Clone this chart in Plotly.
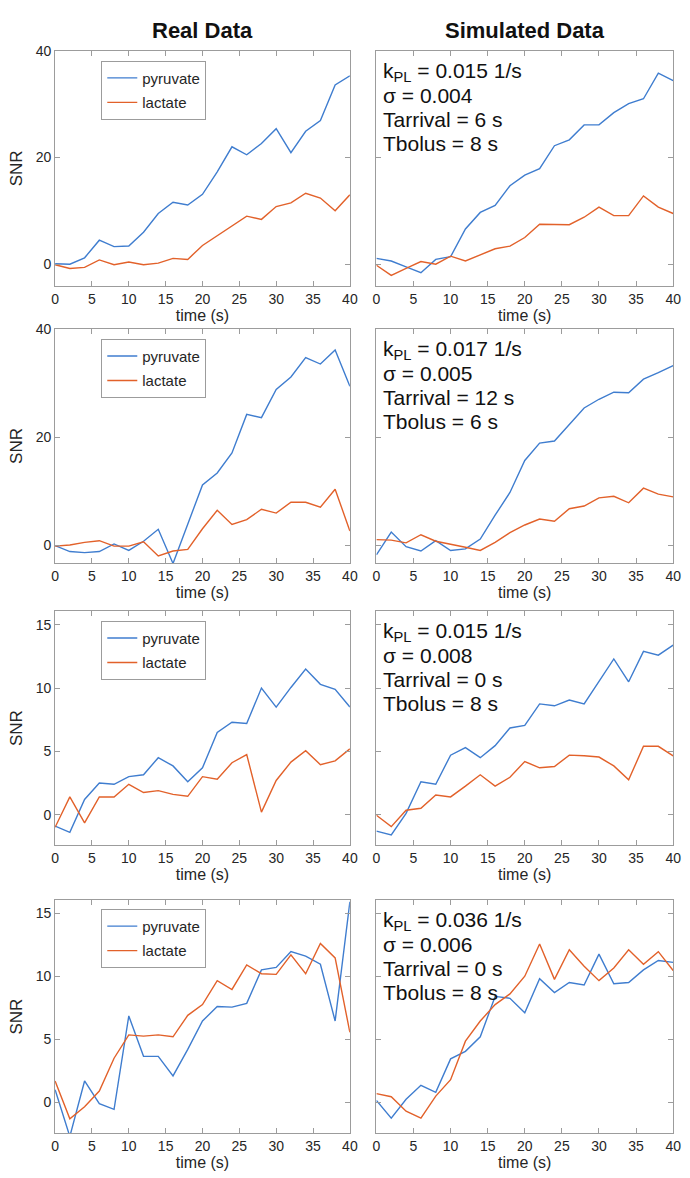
import plotly.graph_objects as go

# ---------------- data ----------------
time_s = [0, 2, 4, 6, 8, 10, 12, 14, 16, 18, 20, 22, 24, 26, 28, 30, 32, 34, 36, 38, 40]

real1_pyr = [0.1, 0.0, 1.2, 4.5, 3.3, 3.4, 6.0, 9.5, 11.6, 11.1, 13.1, 17.3, 22.0, 20.5, 22.6, 25.4, 20.9, 24.9, 26.9, 33.6, 35.3]
real1_lac = [-0.1, -0.8, -0.6, 0.8, -0.1, 0.4, -0.1, 0.2, 1.1, 0.9, 3.5, 5.3, 7.1, 9.0, 8.4, 10.8, 11.5, 13.3, 12.4, 10.0, 13.0]
sim1_pyr = [1.1, 0.6, -0.5, -1.6, 0.9, 1.4, 6.6, 9.7, 11.0, 14.7, 16.7, 17.9, 22.2, 23.3, 26.1, 26.1, 28.4, 30.1, 31.0, 35.8, 34.4]
sim1_lac = [-0.2, -2.1, -0.8, 0.5, 0.0, 1.5, 0.6, 1.8, 2.9, 3.4, 5.0, 7.5, 7.4, 7.4, 8.8, 10.7, 9.1, 9.1, 12.8, 10.7, 9.5]

real2_pyr = [0.0, -1.1, -1.3, -1.1, 0.3, -0.9, 0.8, 3.0, -3.3, 4.0, 11.2, 13.4, 17.1, 24.2, 23.6, 28.8, 31.1, 34.7, 33.5, 36.1, 29.4]
real2_lac = [-0.1, 0.1, 0.6, 0.9, -0.1, -0.1, 0.7, -1.9, -1.0, -0.7, 3.1, 6.5, 3.9, 4.8, 6.7, 6.0, 8.0, 8.0, 7.1, 10.4, 2.7]
sim2_pyr = [-1.7, 2.5, -0.2, -1.0, 0.9, -0.9, -0.6, 1.2, 5.6, 9.8, 15.7, 18.9, 19.3, 22.3, 25.4, 27.0, 28.3, 28.2, 30.7, 31.9, 33.2]
sim2_lac = [1.1, 1.0, 0.5, 2.0, 0.8, 0.3, -0.3, -0.9, 0.6, 2.4, 3.8, 4.9, 4.5, 6.8, 7.3, 8.8, 9.1, 7.9, 10.6, 9.5, 9.0]

real3_pyr = [-0.9, -1.4, 1.2, 2.5, 2.4, 3.0, 3.15, 4.5, 3.85, 2.6, 3.7, 6.5, 7.3, 7.2, 10.0, 8.5, 10.05, 11.5, 10.3, 9.9, 8.5]
real3_lac = [-1.0, 1.4, -0.65, 1.4, 1.4, 2.4, 1.75, 1.9, 1.6, 1.45, 3.0, 2.8, 4.1, 4.75, 0.2, 2.7, 4.15, 5.05, 3.95, 4.25, 5.2]
sim3_pyr = [-1.3, -1.6, 0.1, 2.6, 2.4, 4.7, 5.3, 4.5, 5.45, 6.85, 7.05, 8.75, 8.6, 9.05, 8.75, 10.55, 12.3, 10.5, 12.9, 12.6, 13.4]
sim3_lac = [-0.05, -0.95, 0.35, 0.5, 1.55, 1.4, 2.25, 3.15, 2.25, 2.95, 4.2, 3.7, 3.8, 4.7, 4.65, 4.55, 3.85, 2.75, 5.4, 5.4, 4.65]

real4_pyr = [1.0, -2.7, 1.7, -0.1, -0.55, 6.85, 3.65, 3.65, 2.1, 4.2, 6.45, 7.6, 7.55, 7.85, 10.5, 10.7, 11.95, 11.6, 10.95, 6.45, 15.9]
real4_lac = [1.7, -1.3, -0.35, 0.9, 3.5, 5.35, 5.25, 5.35, 5.2, 6.9, 7.75, 9.65, 8.95, 10.9, 10.2, 10.15, 11.7, 10.2, 12.6, 11.45, 5.55]
sim4_pyr = [0.15, -1.25, 0.25, 1.35, 0.8, 3.45, 4.05, 5.2, 8.4, 8.25, 7.1, 9.8, 8.7, 9.5, 9.3, 11.75, 9.4, 9.5, 10.5, 11.25, 11.1]
sim4_lac = [0.7, 0.45, -0.7, -1.25, 0.5, 1.8, 4.85, 6.45, 7.75, 8.6, 10.0, 12.55, 9.75, 12.1, 10.8, 9.65, 10.65, 12.1, 10.95, 11.95, 10.45]

real_pyr = [real1_pyr, real2_pyr, real3_pyr, real4_pyr]
real_lac = [real1_lac, real2_lac, real3_lac, real4_lac]
sim_pyr = [sim1_pyr, sim2_pyr, sim3_pyr, sim4_pyr]
sim_lac = [sim1_lac, sim2_lac, sim3_lac, sim4_lac]

kpl_values = ["0.015", "0.017", "0.015", "0.036"]
sigma_values = ["0.004", "0.005", "0.008", "0.006"]
tarrival_values = ["6", "12", "0", "0"]
tbolus_values = ["8", "6", "8", "8"]

y_ranges = [[-4.1, 40], [-3.25, 40], [-2.42, 16.1], [-2.45, 16.05]]
y_ticks = [[0, 20, 40], [0, 20, 40], [0, 5, 10, 15], [0, 5, 10, 15]]
x_ticks = [0, 5, 10, 15, 20, 25, 30, 35, 40]
column_titles = ["Real Data", "Simulated Data"]
series_names = ["pyruvate", "lactate"]

# ---------------- style ----------------
W, H = 690, 1178
FONT = "Liberation Sans, Arial, Helvetica, sans-serif"
BLUE = "#3f7dcf"
ORANGE = "#e2612a"
AXC = "#9c9c9c"
TXT = "#262626"

col_px = [(52, 352), (379, 681)]
row_px = [(43, 280), (323, 559), (607, 843), (898, 1133)]
legend_top_px = [53, 333, 617, 907]
legend_left_px = 99

fig = go.Figure()
layout = dict(
    width=W, height=H, margin=dict(l=0, r=0, t=0, b=0),
    paper_bgcolor="white", plot_bgcolor="white",
    font=dict(family=FONT, color=TXT, size=14),
    showlegend=True,
)
annotations = []

for r in range(4):
    for c in range(2):
        idx = 2 * r + c + 1
        xa = "x" if idx == 1 else f"x{idx}"
        ya = "y" if idx == 1 else f"y{idx}"
        legname = "legend" if r == 0 else f"legend{r + 1}"
        pyr = real_pyr[r] if c == 0 else sim_pyr[r]
        lac = real_lac[r] if c == 0 else sim_lac[r]
        for name, vals, col in [(series_names[0], pyr, BLUE), (series_names[1], lac, ORANGE)]:
            fig.add_trace(go.Scatter(
                x=time_s, y=vals, mode="lines", name=name,
                line=dict(color=col, width=1.4),
                xaxis=xa, yaxis=ya,
                showlegend=(c == 0), legend=legname, legendgroup=f"{name}{r}",
                hoverinfo="skip",
            ))
        x0, x1 = col_px[c]
        t0, t1 = row_px[r]
        layout[f"xaxis{'' if idx == 1 else idx}"] = dict(
            domain=[x0 / W, x1 / W], range=[0, 40], anchor=ya,
            tickvals=x_ticks, ticks="inside", ticklen=5, tickcolor=AXC,
            showline=True, linecolor=AXC, linewidth=1, mirror="ticks",
            showgrid=False, zeroline=False,
            tickfont=dict(size=14, color=TXT, family=FONT),
            title=dict(text="time (s)", font=dict(size=16, color=TXT, family=FONT), standoff=3),
        )
        layout[f"yaxis{'' if idx == 1 else idx}"] = dict(
            domain=[1 - t1 / H, 1 - t0 / H], range=y_ranges[r], anchor=xa,
            tickvals=y_ticks[r], ticks="inside", ticklen=5, tickcolor=AXC,
            showline=True, linecolor=AXC, linewidth=1, mirror="ticks",
            showgrid=False, zeroline=False, showticklabels=(c == 0),
            tickfont=dict(size=14, color=TXT, family=FONT),
            title=dict(text="SNR" if c == 0 else "", font=dict(size=17, color=TXT, family=FONT), standoff=8),
        )
        if c == 1:
            lines = [f"k<sub>PL</sub> = {kpl_values[r]} 1/s", f"σ = {sigma_values[r]}",
                     f"Tarrival = {tarrival_values[r]} s", f"Tbolus = {tbolus_values[r]} s"]
            for j, txt in enumerate(lines):
                annotations.append(dict(
                    xref="paper", yref="paper",
                    x=(x0 + 5) / W, y=1 - (t0 + 21 + 24 * j) / H,
                    xanchor="left", yanchor="middle", showarrow=False,
                    text=txt, font=dict(size=21, color="#111111", family=FONT),
                ))
    layout["legend" if r == 0 else f"legend{r + 1}"] = dict(
        x=legend_left_px / W, y=1 - legend_top_px[r] / H, xanchor="left", yanchor="top",
        xref="paper", yref="paper",
        bordercolor=AXC, borderwidth=1, bgcolor="white",
        font=dict(size=15, color=TXT, family=FONT),
        tracegroupgap=2, itemwidth=30, traceorder="grouped",
    )

for c, ttl in enumerate(column_titles):
    x0, x1 = col_px[c]
    annotations.append(dict(
        xref="paper", yref="paper", x=(x0 + x1) / 2 / W, y=1 - 23 / H,
        xanchor="center", yanchor="middle", showarrow=False,
        text=f"<b>{ttl}</b>", font=dict(size=22, color="#111111", family=FONT),
    ))

layout["annotations"] = annotations
fig.update_layout(**layout)
fig.write_html("out.html")
